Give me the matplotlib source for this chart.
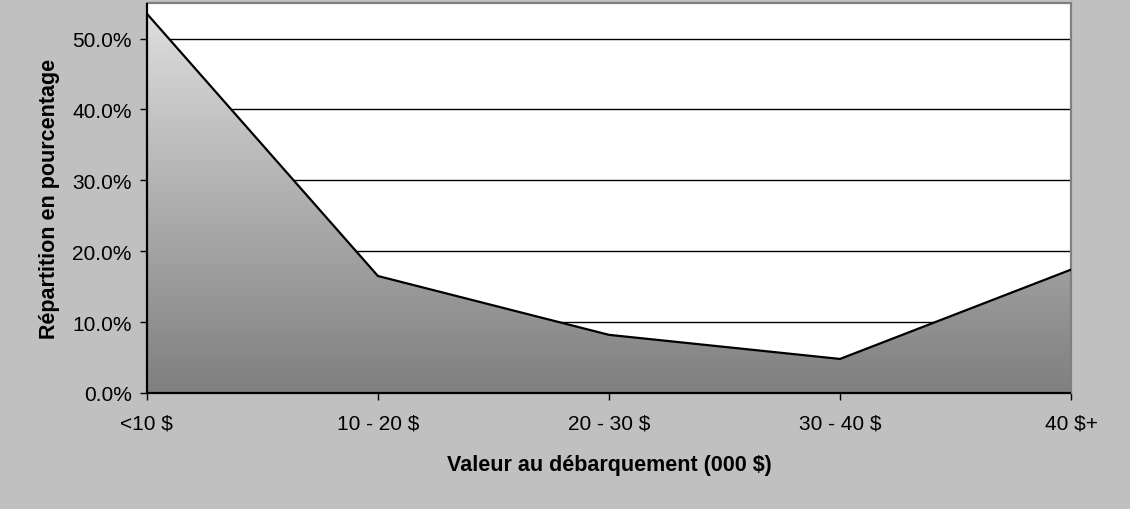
import numpy as np
import matplotlib.pyplot as plt
from matplotlib.colors import LinearSegmentedColormap
from matplotlib.ticker import PercentFormatter

# répartition des valeurs au débarquement
categories = ["<10 $", "10 - 20 $", "20 - 30 $", "30 - 40 $", "40 $+"]
pourcentages = [53.5, 16.5, 8.2, 4.8, 17.4]
y_ticks = [0, 10, 20, 30, 40, 50]

plt.rcParams['font.family'] = ['Liberation Sans', 'DejaVu Sans']

fig = plt.figure(figsize=(11.3, 5.1), dpi=100, facecolor='#c0c0c0')
ax = fig.add_axes([0.130, 0.2275, 0.8178, 0.7645])
ax.set_facecolor('white')

x = np.arange(len(categories))
y = np.array(pourcentages)

# grille horizontale derrière la surface
for t in y_ticks[1:]:
    ax.axhline(t, color='black', lw=1.0, zorder=1)

# surface en dégradé (clair en haut, foncé en bas)
cmap = LinearSegmentedColormap.from_list('gris', ['#7f7f7f', '#dedede'])
grad = np.linspace(0, 1, 256).reshape(-1, 1)
img = ax.imshow(grad, cmap=cmap, origin='lower', aspect='auto',
                extent=[x[0], x[-1], 0, y.max()], zorder=2)
poly = ax.fill_between(x, 0, y, facecolor='none', edgecolor='none', zorder=2)
path = poly.get_paths()[0]
img.set_clip_path(path, transform=ax.transData)
ax.plot(x, y, color='black', lw=1.6, zorder=3, solid_joinstyle='miter')

ax.set_xlim(x[0], x[-1])
ax.set_ylim(0, 55)
ax.set_xticks(x)
ax.set_xticklabels(categories)
ax.set_yticks(y_ticks)
ax.yaxis.set_major_formatter(PercentFormatter(decimals=1))
ax.tick_params(axis='both', direction='out', length=5, width=1,
               labelsize=15, colors='black', pad=6)
ax.tick_params(axis='x', pad=10)

for s in ['left', 'bottom']:
    ax.spines[s].set_color('black')
    ax.spines[s].set_linewidth(1.6)
    ax.spines[s].set_zorder(4)
    ax.spines[s].set_capstyle('butt')
for s in ['top', 'right']:
    ax.spines[s].set_color('#808080')
    ax.spines[s].set_linewidth(1.6)

ax.set_ylabel("Répartition en pourcentage", fontsize=15.5, fontweight='bold',
              labelpad=9)
ax.set_xlabel("Valeur au débarquement (000 $)", fontsize=15.5,
              fontweight='bold', labelpad=15)

fig.savefig('out.png', dpi=100, facecolor=fig.get_facecolor())
